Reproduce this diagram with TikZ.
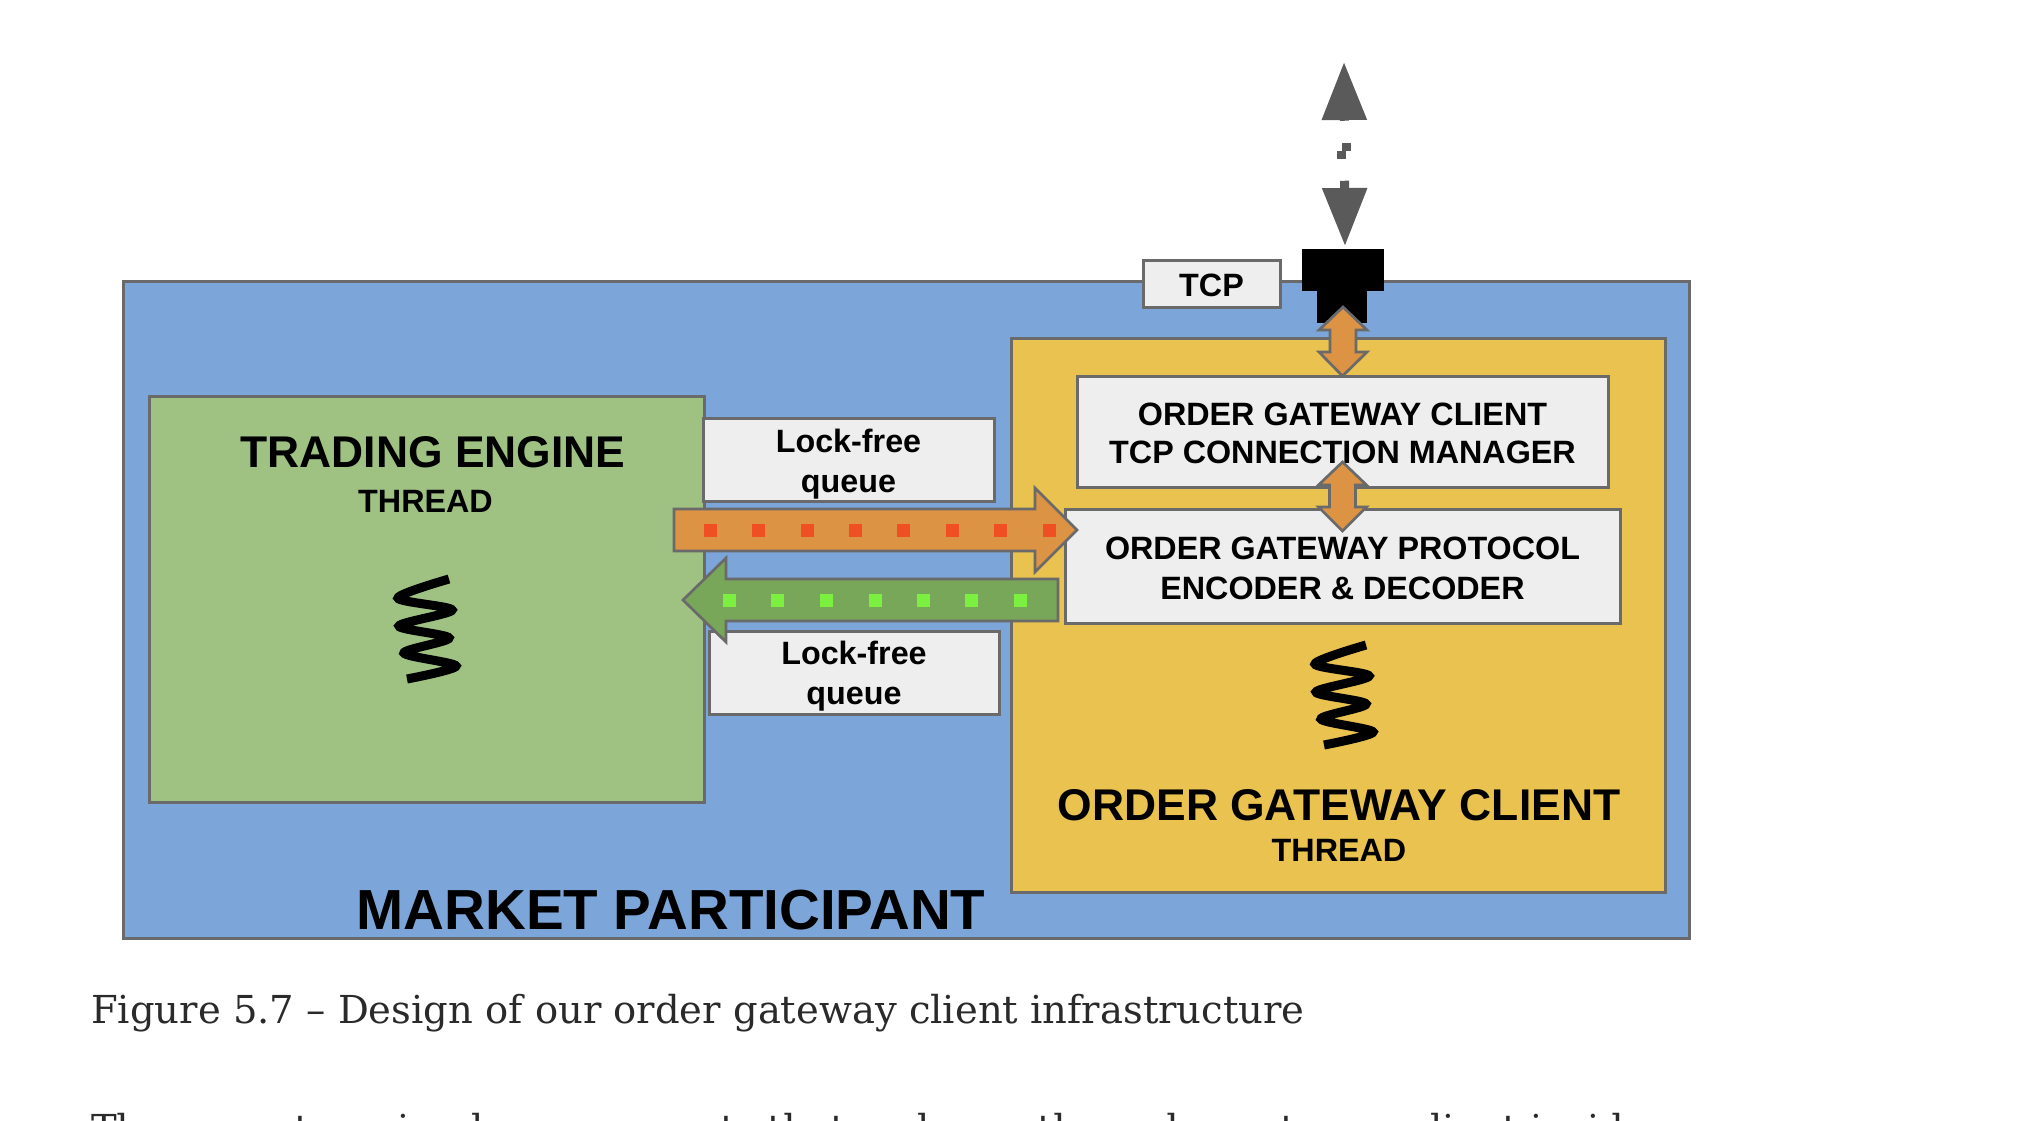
\documentclass[tikz,border=0pt]{standalone}
\usepackage{fontspec}
\setmainfont{Liberation Sans}
\newfontfamily\capfont{DejaVu Serif}
\usetikzlibrary{arrows.meta,calc}
\definecolor{cblue}{HTML}{7CA6D9}
\definecolor{cyellow}{HTML}{E9C24F}
\definecolor{cgreen}{HTML}{9FC283}
\definecolor{cbox}{HTML}{EEEEEE}
\definecolor{corange}{HTML}{DC9344}
\definecolor{cdgreen}{HTML}{78A75A}
\definecolor{cedge}{HTML}{6A6A6A}
\definecolor{cgray}{HTML}{5A5A5A}
\definecolor{csqred}{HTML}{F04E23}
\definecolor{csqgreen}{HTML}{7CF040}
\definecolor{ccap}{HTML}{2A2A2A}
\tikzset{
  panel/.style={draw=cedge,line width=3pt,inner sep=0pt,outer sep=0pt},
  label/.style={panel,fill=cbox,align=center,font=\bfseries\fontsize{32.3}{40}\selectfont,text=black},
  title/.style={anchor=base,inner sep=0pt,font=\bfseries\fontsize{44.4}{50}\selectfont,text=black},
  subtitle/.style={anchor=base,inner sep=0pt,font=\bfseries\fontsize{32.3}{38}\selectfont,text=black},
  fatarrow/.style={draw=cedge,line width=2.7pt,line join=miter},
  spring/.style={draw=black,line width=9pt,smooth,tension=0.5},
  captext/.style={anchor=base west,inner sep=0pt,font=\capfont\fontsize{38.5}{44}\selectfont,text=ccap},
}
% vertical double block arrow between two named coordinates
\newcommand\vdouble[2]{\draw[fatarrow,fill=corange] let \p1=(#1),\p2=(#2) in
  (\x1,\y1) -- (\x1+24pt,\y1-23pt) -- (\x1+13pt,\y1-23pt) -- (\x1+13pt,\y2+24pt) -- (\x1+24pt,\y2+24pt) -- (\x2,\y2)
  -- (\x1-24pt,\y2+24pt) -- (\x1-13pt,\y2+24pt) -- (\x1-13pt,\y1-23pt) -- (\x1-24pt,\y1-23pt) -- cycle;}
% horizontal block arrow: tail, tip, fill, signed head length
\newcommand\hblock[4]{\draw[fatarrow,fill=#3] let \p1=(#1),\p2=(#2) in
  (\x1,\y1+21pt) -- (\x2-#4,\y1+21pt) -- (\x2-#4,\y1+42pt) -- (\x2,\y2) -- (\x2-#4,\y1-42pt) -- (\x2-#4,\y1-21pt) -- (\x1,\y1-21pt) -- cycle;}
\begin{document}
\begin{tikzpicture}[x=1pt,y=-1pt]
\useasboundingbox (0,0) rectangle (2032,1120);
\fill[white] (0,0) rectangle (2032,1120);
% panels
\node[panel,fill=cblue,minimum width=1566pt,minimum height=657pt] (outer) at (906,609.5) {};
\node[panel,fill=cyellow,minimum width=654pt,minimum height=554pt] (ogc) at (1338,615) {};
\node[panel,fill=cgreen,minimum width=555pt,minimum height=406pt] (engine) at (426.5,599.5) {};
% labels
\node[label,minimum width=291pt,minimum height=83pt] (q1) at (848.5,460) {\rule{0pt}{31.6pt}Lock-free\\queue};
\node[label,minimum width=290pt,minimum height=83pt] (q2) at (854,672.5) {\rule{0pt}{31.6pt}Lock-free\\queue};
\node[label,minimum width=531pt,minimum height=111pt,font=\bfseries\fontsize{32.3}{38}\selectfont] (mgr) at (1342.5,431.5) {\rule{0pt}{26.7pt}ORDER GATEWAY CLIENT\\TCP CONNECTION MANAGER};
\node[label,minimum width=555pt,minimum height=114pt] (codec) at (1342.5,566) {\rule{0pt}{26.7pt}ORDER GATEWAY PROTOCOL\\ENCODER \& DECODER};
\node[panel,fill=cbox,minimum width=137pt,minimum height=47pt] (tcp) at (1211.5,283.5) {};
\node[anchor=base,inner sep=0pt,font=\bfseries\fontsize{32.3}{38}\selectfont] (tcpt) at (1211.5,296.5) {TCP};
% titles
\node[title] (t1) at (433,467) {TRADING ENGINE};
\node[subtitle] (t2) at (425.5,512) {THREAD};
\node[title] (t3) at (1339,820) {ORDER GATEWAY CLIENT};
\node[subtitle] (t4) at (1339,861) {THREAD};
\node[title,font=\bfseries\fontsize{56.5}{60}\selectfont] (t5) at (671,929) {MARKET PARTICIPANT};
% springs
\draw[spring] plot coordinates {(449,579) (398,598) (452,610) (399,626) (449,638) (404,653) (456,666) (407,679)};
\draw[spring] plot coordinates {(1366,645) (1315,664) (1369,676) (1316,692) (1366,704) (1321,719) (1373,732) (1324,745)};
% plug
\node[fill=black,inner sep=0pt,outer sep=0pt,minimum width=82pt,minimum height=42pt] (plug) at (1343,270) {};
\node[fill=black,inner sep=0pt,outer sep=0pt,minimum width=50pt,minimum height=33pt] (plugb) at (1342,306) {};
% network link
\coordinate (net) at (1344,62);
\draw[cgray,line width=9pt,dash pattern=on 3pt off 60pt on 14pt off 200pt,
  {Triangle[length=58pt,width=43pt]}-{Triangle[length=58pt,width=43pt]},shorten >=3pt]
  (net) -- ($(plug.north)+(2,0)$);
\fill[cgray] (1342,143) rectangle (1351,151);
\fill[cgray] (1337,151) rectangle (1346,159);
% double block arrows
\coordinate (d1a) at (1343,307);
\coordinate (d1b) at (mgr.north);
\vdouble{d1a}{d1b}
\coordinate (d2a) at ($(mgr.south)+(0,-25)$);
\coordinate (d2b) at ($(codec.north)+(0,22)$);
\vdouble{d2a}{d2b}
% queue arrows
\coordinate (oa) at (674,530);
\coordinate (ob) at ($(codec.west)+(12,-36)$);
\hblock{oa}{ob}{corange}{42pt}
\foreach \x in {710,758,807,855,903,952,1000,1049}
  \fill[csqred] (\x-6.5,523.5) rectangle +(13,13);
\coordinate (ga) at (1058,600);
\coordinate (gb) at (683,600);
\hblock{ga}{gb}{cdgreen}{-43pt}
\foreach \x in {729,777,826,875,923,971,1020}
  \fill[csqgreen] (\x-6.5,593.5) rectangle +(13,13);
% caption
\node[captext] (cap) at (91,1023) {Figure 5.7 – Design of our order gateway client infrastructure};
\node[captext] (next) at (91,1142) {There are two simple components that make up the order gateway client inside};
\end{tikzpicture}
\end{document}
